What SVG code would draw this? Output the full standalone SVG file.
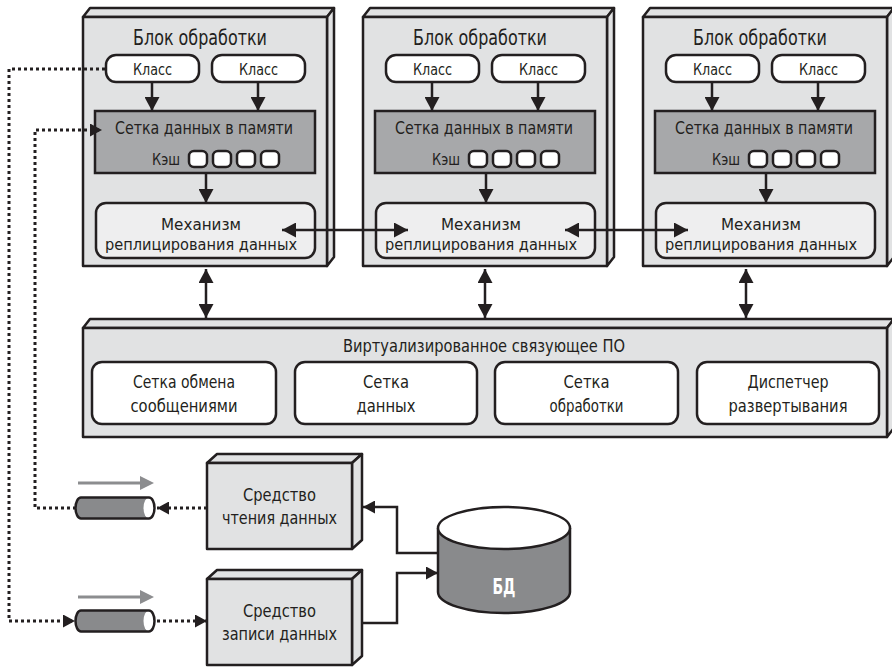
<svg xmlns="http://www.w3.org/2000/svg" width="892" height="667" viewBox="0 0 892 667">
<style>
text{font-family:"Liberation Sans Narrow","DejaVu Sans Condensed","Liberation Sans",sans-serif;fill:#231f20;text-anchor:middle}
.face{fill:#e1e2e3;stroke:#231f20;stroke-width:2.5;stroke-linejoin:round}
.wbox{fill:#ffffff;stroke:#231f20;stroke-width:2.5}
.grid{fill:#a7a8aa;stroke:#231f20;stroke-width:2.5}
.repl{fill:#eeeeef;stroke:#231f20;stroke-width:2.5}
.t22{font-size:22px}
.t18{font-size:18px}
.t17{font-size:17px}
.t16{font-size:16px}
.t15{font-size:15px}
.ln{fill:none;stroke:#231f20;stroke-width:2.5}
.dot{fill:none;stroke:#231f20;stroke-width:3;stroke-dasharray:3 3}
.gray{fill:#898a8c}
.garrow{stroke:#8c8d8f;stroke-width:3;fill:none}
</style>
<defs>
<marker id="ah" markerWidth="14" markerHeight="15" refX="14" refY="7.5" orient="auto-start-reverse" markerUnits="userSpaceOnUse" viewBox="0 0 14 15"><path d="M0,0 L14,7.5 L0,15 Z" fill="#231f20"/></marker>
<marker id="ahs" markerWidth="12" markerHeight="13" refX="12" refY="6.5" orient="auto-start-reverse" markerUnits="userSpaceOnUse" viewBox="0 0 12 13"><path d="M0,0 L12,6.5 L0,13 Z" fill="#231f20"/></marker>
</defs>

<g id="unit1">
<path class="face" d="M83,17 L90,8 L334,8 L327,17 Z"/>
<path class="face" d="M327,17 L334,8 L334,257 L327,266 Z"/>
<rect class="face" x="83" y="17" width="244" height="249"/>
<text class="t22" x="200" y="45" textLength="134" lengthAdjust="spacingAndGlyphs">Блок обработки</text>
<rect class="wbox" x="106" y="55" width="93" height="27" rx="10"/>
<text class="t16" x="152.5" y="75" textLength="39" lengthAdjust="spacingAndGlyphs">Класс</text>
<rect class="wbox" x="212" y="55" width="93" height="27" rx="10"/>
<text class="t16" x="258.5" y="75" textLength="39" lengthAdjust="spacingAndGlyphs">Класс</text>
<rect class="grid" x="95" y="111" width="220" height="62"/>
<text class="t17" x="204" y="134" textLength="178" lengthAdjust="spacingAndGlyphs">Сетка данных в памяти</text>
<text class="t15" x="166" y="165" textLength="28" lengthAdjust="spacingAndGlyphs">Кэш</text>
<rect class="wbox" x="189" y="151" width="18" height="16" rx="5"/>
<rect class="wbox" x="213" y="151" width="18" height="16" rx="5"/>
<rect class="wbox" x="237" y="151" width="18" height="16" rx="5"/>
<rect class="wbox" x="261" y="151" width="18" height="16" rx="5"/>
<rect class="repl" x="96" y="203" width="219" height="55" rx="10"/>
<text class="t16" x="201" y="230" textLength="80" lengthAdjust="spacingAndGlyphs">Механизм</text>
<text class="t16" x="201" y="250" textLength="192" lengthAdjust="spacingAndGlyphs">реплицирования данных</text>
</g>

<g id="unit2" transform="translate(280,0)">
<path class="face" d="M83,17 L90,8 L334,8 L327,17 Z"/>
<path class="face" d="M327,17 L334,8 L334,257 L327,266 Z"/>
<rect class="face" x="83" y="17" width="244" height="249"/>
<text class="t22" x="200" y="45" textLength="134" lengthAdjust="spacingAndGlyphs">Блок обработки</text>
<rect class="wbox" x="106" y="55" width="93" height="27" rx="10"/>
<text class="t16" x="152.5" y="75" textLength="39" lengthAdjust="spacingAndGlyphs">Класс</text>
<rect class="wbox" x="212" y="55" width="93" height="27" rx="10"/>
<text class="t16" x="258.5" y="75" textLength="39" lengthAdjust="spacingAndGlyphs">Класс</text>
<rect class="grid" x="95" y="111" width="220" height="62"/>
<text class="t17" x="204" y="134" textLength="178" lengthAdjust="spacingAndGlyphs">Сетка данных в памяти</text>
<text class="t15" x="166" y="165" textLength="28" lengthAdjust="spacingAndGlyphs">Кэш</text>
<rect class="wbox" x="189" y="151" width="18" height="16" rx="5"/>
<rect class="wbox" x="213" y="151" width="18" height="16" rx="5"/>
<rect class="wbox" x="237" y="151" width="18" height="16" rx="5"/>
<rect class="wbox" x="261" y="151" width="18" height="16" rx="5"/>
<rect class="repl" x="96" y="203" width="219" height="55" rx="10"/>
<text class="t16" x="201" y="230" textLength="80" lengthAdjust="spacingAndGlyphs">Механизм</text>
<text class="t16" x="201" y="250" textLength="192" lengthAdjust="spacingAndGlyphs">реплицирования данных</text>
</g>

<g id="unit3" transform="translate(560,0)">
<path class="face" d="M83,17 L90,8 L334,8 L327,17 Z"/>
<path class="face" d="M327,17 L334,8 L334,257 L327,266 Z"/>
<rect class="face" x="83" y="17" width="244" height="249"/>
<text class="t22" x="200" y="45" textLength="134" lengthAdjust="spacingAndGlyphs">Блок обработки</text>
<rect class="wbox" x="106" y="55" width="93" height="27" rx="10"/>
<text class="t16" x="152.5" y="75" textLength="39" lengthAdjust="spacingAndGlyphs">Класс</text>
<rect class="wbox" x="212" y="55" width="93" height="27" rx="10"/>
<text class="t16" x="258.5" y="75" textLength="39" lengthAdjust="spacingAndGlyphs">Класс</text>
<rect class="grid" x="95" y="111" width="220" height="62"/>
<text class="t17" x="204" y="134" textLength="178" lengthAdjust="spacingAndGlyphs">Сетка данных в памяти</text>
<text class="t15" x="166" y="165" textLength="28" lengthAdjust="spacingAndGlyphs">Кэш</text>
<rect class="wbox" x="189" y="151" width="18" height="16" rx="5"/>
<rect class="wbox" x="213" y="151" width="18" height="16" rx="5"/>
<rect class="wbox" x="237" y="151" width="18" height="16" rx="5"/>
<rect class="wbox" x="261" y="151" width="18" height="16" rx="5"/>
<rect class="repl" x="96" y="203" width="219" height="55" rx="10"/>
<text class="t16" x="201" y="230" textLength="80" lengthAdjust="spacingAndGlyphs">Механизм</text>
<text class="t16" x="201" y="250" textLength="192" lengthAdjust="spacingAndGlyphs">реплицирования данных</text>
</g>

<g id="middleware">
<path class="face" d="M83,328 L90,319 L894,319 L887,328 Z"/>
<path class="face" d="M887,328 L894,319 L894,428 L887,437 Z"/>
<rect class="face" x="83" y="328" width="804" height="109"/>
<text class="t17" x="484" y="352" textLength="282" lengthAdjust="spacingAndGlyphs">Виртуализированное связующее ПО</text>
<rect class="wbox" x="92" y="362" width="184" height="62" rx="10"/>
<text class="t18" x="184" y="388" textLength="102" lengthAdjust="spacingAndGlyphs">Сетка обмена</text>
<text class="t18" x="184" y="412" textLength="107" lengthAdjust="spacingAndGlyphs">сообщениями</text>
<rect class="wbox" x="295" y="362" width="182" height="62" rx="10"/>
<text class="t18" x="386" y="388" textLength="46" lengthAdjust="spacingAndGlyphs">Сетка</text>
<text class="t18" x="386" y="412" textLength="59" lengthAdjust="spacingAndGlyphs">данных</text>
<rect class="wbox" x="495" y="362" width="183" height="62" rx="10"/>
<text class="t18" x="586.5" y="388" textLength="46" lengthAdjust="spacingAndGlyphs">Сетка</text>
<text class="t18" x="586.5" y="412" textLength="74" lengthAdjust="spacingAndGlyphs">обработки</text>
<rect class="wbox" x="697" y="362" width="182" height="62" rx="10"/>
<text class="t18" x="788" y="388" textLength="81" lengthAdjust="spacingAndGlyphs">Диспетчер</text>
<text class="t18" x="788" y="412" textLength="119" lengthAdjust="spacingAndGlyphs">развертывания</text>
</g>

<g id="reader">
<path class="face" d="M207,463 L217,454 L362,454 L352,463 Z"/>
<path class="face" d="M352,463 L362,454 L362,540 L352,549 Z"/>
<rect class="face" x="207" y="463" width="145" height="86"/>
<text class="t18" x="279.5" y="501" textLength="73" lengthAdjust="spacingAndGlyphs">Средство</text>
<text class="t18" x="279.5" y="524" textLength="115" lengthAdjust="spacingAndGlyphs">чтения данных</text>
</g>

<g id="writer">
<path class="face" d="M207,579 L217,570 L362,570 L352,579 Z"/>
<path class="face" d="M352,579 L362,570 L362,656 L352,665 Z"/>
<rect class="face" x="207" y="579" width="145" height="86"/>
<text class="t18" x="279.5" y="617" textLength="73" lengthAdjust="spacingAndGlyphs">Средство</text>
<text class="t18" x="279.5" y="640" textLength="115" lengthAdjust="spacingAndGlyphs">записи данных</text>
</g>

<g id="db">
<path class="gray" d="M438,528 V592 A66,21 0 0 0 570,592 V528 Z"/>
<path class="ln" d="M438,528 V592 A66,21 0 0 0 570,592 V528"/>
<ellipse cx="504" cy="528" rx="66" ry="21" fill="#ffffff" stroke="#231f20" stroke-width="2.5"/>
<text x="504" y="594" style="font-size:22px;font-weight:bold;fill:#ffffff" textLength="23" lengthAdjust="spacingAndGlyphs">БД</text>
</g>

<g id="pipe1">
<path class="garrow" d="M78,483 H142"/>
<path d="M140,476 L154,483 L140,490 Z" fill="#8c8d8f"/>
<path class="gray" d="M81,497.5 H149 A5.5,10.5 0 0 1 149,518.5 H81 A5.5,10.5 0 0 1 81,497.5 Z"/>
<ellipse cx="149" cy="508" rx="5.5" ry="10.5" fill="#ffffff"/>
<path class="ln" d="M81,497.5 H149 A5.5,10.5 0 0 1 149,518.5 H81 A5.5,10.5 0 0 1 81,497.5 Z"/>
</g>

<g id="pipe2">
<path class="garrow" d="M78,597 H142"/>
<path d="M140,590 L154,597 L140,604 Z" fill="#8c8d8f"/>
<path class="gray" d="M81,610.5 H149 A5.5,10.5 0 0 1 149,631.5 H81 A5.5,10.5 0 0 1 81,610.5 Z"/>
<ellipse cx="149" cy="621" rx="5.5" ry="10.5" fill="#ffffff"/>
<path class="ln" d="M81,610.5 H149 A5.5,10.5 0 0 1 149,631.5 H81 A5.5,10.5 0 0 1 81,610.5 Z"/>
</g>

<g id="connectors">
<path class="ln" d="M152,82 V111" marker-end="url(#ah)"/>
<path class="ln" d="M258,82 V111" marker-end="url(#ah)"/>
<path class="ln" d="M206,173 V203" marker-end="url(#ah)"/>
<path class="ln" d="M432,82 V111" marker-end="url(#ah)"/>
<path class="ln" d="M538,82 V111" marker-end="url(#ah)"/>
<path class="ln" d="M486,173 V203" marker-end="url(#ah)"/>
<path class="ln" d="M712,82 V111" marker-end="url(#ah)"/>
<path class="ln" d="M818,82 V111" marker-end="url(#ah)"/>
<path class="ln" d="M766,173 V203" marker-end="url(#ah)"/>
<path class="ln" d="M282,230 H408" marker-start="url(#ah)" marker-end="url(#ah)"/>
<path class="ln" d="M565,230 H688" marker-start="url(#ah)" marker-end="url(#ah)"/>
<path class="ln" d="M206,269 V318" marker-start="url(#ah)" marker-end="url(#ah)"/>
<path class="ln" d="M485,269 V318" marker-start="url(#ah)" marker-end="url(#ah)"/>
<path class="ln" d="M746,269 V318" marker-start="url(#ah)" marker-end="url(#ah)"/>
<path class="dot" d="M105,69 H9 V621 H75" marker-end="url(#ahs)"/>
<path class="dot" d="M76,508 H35 V130 H102" marker-end="url(#ahs)"/>
<path class="dot" d="M207,508 H157" marker-end="url(#ahs)"/>
<path class="dot" d="M157,621 H207" marker-end="url(#ahs)"/>
<path class="ln" d="M438,553 H397 V507 H363" marker-end="url(#ahs)"/>
<path class="ln" d="M363,623 H397 V573 H438" marker-end="url(#ahs)"/>
</g>
</svg>
